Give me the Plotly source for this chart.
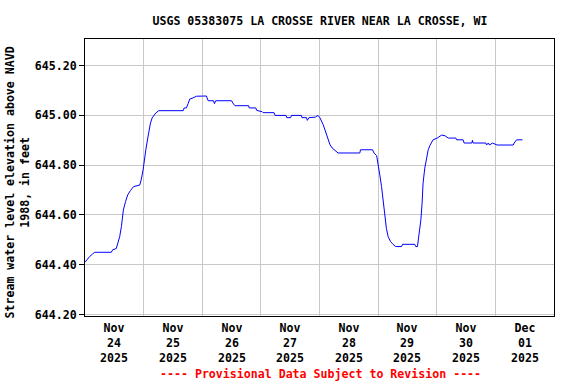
import pandas as pd
import plotly.graph_objects as go

# Hours since 2025-11-24 00:00 and gage height (ft, NAVD 1988)
hours = [0, 1.2, 1.9, 3.1, 4, 10.8, 11.3, 12.8, 13.5, 14.2, 14.9, 15.4, 15.7, 16.6, 17.5,
         18.6, 19.9, 22.4, 23, 23.8, 24.2, 24.9, 25.7, 26.2, 26.8, 27.5, 28.1, 29, 30.2,
         40.2, 40.6, 41.5, 42.2, 42.9, 44.2, 45.6, 49.7, 50.4, 52.6, 53, 53.5, 60, 60.5,
         61.4, 67, 67.2, 69.9, 70.3, 72.5, 72.9, 77.4, 77.8, 82.3, 82.6, 84.2, 84.5, 88.6,
         88.8, 90.7, 91, 91.7, 94.3, 95.4, 96.2, 97.5, 98.4, 99.3, 100.3, 101.2, 102.2,
         103.6, 112.5, 112.8, 117.7, 118.3, 119.4, 120, 120.7, 121.4, 122.1, 122.7, 123.4,
         124.1, 125.1, 126.1, 127.2, 129.6, 130, 135, 135.4, 136.1, 136.5, 137.1, 137.5,
         138, 138.4, 139.1, 139.8, 140.5, 141.2, 142.5, 144.2, 145.2, 146, 147.4, 148.7,
         151.8, 152.1, 154.8, 155.2, 158.4, 158.6, 158.9, 164.1, 164.4, 165.1, 165.6,
         166.8, 168.7, 175.3, 175.7, 176.7, 179.1]
elev = [644.41, 644.426, 644.433, 644.443, 644.45, 644.45, 644.46, 644.465, 644.486, 644.513,
        644.553, 644.587, 644.62, 644.654, 644.681, 644.698, 644.714, 644.72, 644.741,
        644.782, 644.815, 644.862, 644.909, 644.942, 644.969, 644.99, 645.0, 645.01,
        645.019, 645.019, 645.03, 645.03, 645.047, 645.066, 645.07, 645.077, 645.078,
        645.059, 645.059, 645.047, 645.059, 645.059, 645.05, 645.039, 645.039, 645.03,
        645.03, 645.02, 645.015, 645.011, 645.011, 645.0, 645.0, 644.991, 644.991, 645.0,
        645.0, 644.991, 644.991, 644.98, 644.991, 644.993, 645.0, 644.99, 644.963, 644.936,
        644.909, 644.882, 644.869, 644.862, 644.849, 644.849, 644.862, 644.862, 644.849,
        644.838, 644.808, 644.76, 644.714, 644.651, 644.594, 644.545, 644.513, 644.493,
        644.482, 644.473, 644.473, 644.482, 644.482, 644.473, 644.473, 644.507, 644.533,
        644.58, 644.647, 644.728, 644.788, 644.829, 644.862, 644.879, 644.902, 644.909,
        644.915, 644.921, 644.918, 644.909, 644.909, 644.902, 644.902, 644.889, 644.889,
        644.9, 644.889, 644.889, 644.881, 644.889, 644.881, 644.889, 644.881, 644.881,
        644.889, 644.902, 644.902]

tick_months = ["Nov", "Nov", "Nov", "Nov", "Nov", "Nov", "Nov", "Dec"]
tick_days = ["24", "25", "26", "27", "28", "29", "30", "01"]
tick_years = ["2025"] * 8
y_ticks = [644.2, 644.4, 644.6, 644.8, 645.0, 645.2]
y_tick_text = ["644.20", "644.40", "644.60", "644.80", "645.00", "645.20"]

start = pd.Timestamp("2025-11-24 00:00")
times = [start + pd.Timedelta(hours=h) for h in hours]
label_pos = [start + pd.Timedelta(days=i, hours=12) for i in range(len(tick_days))]

FONT = "DejaVu Sans Mono"
FS = 11.6
tfont = dict(family=FONT, size=FS, color="black", weight="bold")

fig = go.Figure()
fig.add_trace(go.Scatter(x=times, y=elev, mode="lines",
                         line=dict(color="#0000ff", width=1), hoverinfo="skip"))

fig.update_layout(
    width=576, height=384,
    margin=dict(l=85, r=22, t=39, b=68, autoexpand=False),
    paper_bgcolor="white", plot_bgcolor="white",
    showlegend=False,
    font=dict(family=FONT, size=FS, color="black"),
    title=dict(text="USGS 05383075 LA CROSSE RIVER NEAR LA CROSSE, WI",
               x=320 / 576, xanchor="center", xref="container",
               y=1 - 21.3 / 384, yanchor="middle", automargin=False,
               font=tfont),
)
fig.update_xaxes(
    range=[start, start + pd.Timedelta(days=8)],
    tickmode="array", tickvals=label_pos, ticktext=[""] * len(label_pos),
    ticks="", showgrid=False, zeroline=False, automargin=False,
    showline=True, linecolor="black", linewidth=1, mirror=True,
    minor=dict(tick0=start, dtick=86400000, showgrid=True, gridcolor="#c8c8c8",
               gridwidth=1, ticks=""),
)
fig.update_yaxes(
    range=[644.194, 645.307],
    tickmode="array", tickvals=y_ticks, ticktext=y_tick_text,
    ticks="outside", ticklen=5, tickcolor="black", automargin=False,
    showgrid=True, gridcolor="#c8c8c8", gridwidth=1, zeroline=False,
    tickfont=tfont,
    showline=True, linecolor="black", linewidth=1, mirror=True,
)

plot_h = 384 - 39 - 68
def ypaper(pix):
    return (384 - 68 - pix) / plot_h

for xv, m, d, yr in zip(label_pos, tick_months, tick_days, tick_years):
    fig.add_annotation(text=f"{m}<br>{d}<br>{yr}", x=xv, xref="x",
                       y=ypaper(342.7), yref="paper",
                       xanchor="center", yanchor="middle", showarrow=False,
                       font=tfont)

fig.add_annotation(text="Stream water level elevation above NAVD<br>1988, in feet",
                   textangle=-90, xref="paper", x=(17 - 85) / 469, xanchor="center",
                   yref="paper", y=ypaper(182.5), yanchor="middle", showarrow=False,
                   font=tfont)
fig.add_annotation(text="---- Provisional Data Subject to Revision ----",
                   xref="paper", x=(320 - 85) / 469, xanchor="center",
                   yref="paper", y=ypaper(374.5), yanchor="middle", showarrow=False,
                   font=dict(family=FONT, size=FS, color="#ff0000", weight="bold"))

fig.write_html("out.html", config={"displayModeBar": False},
               post_script="document.body.style.margin='0';")
